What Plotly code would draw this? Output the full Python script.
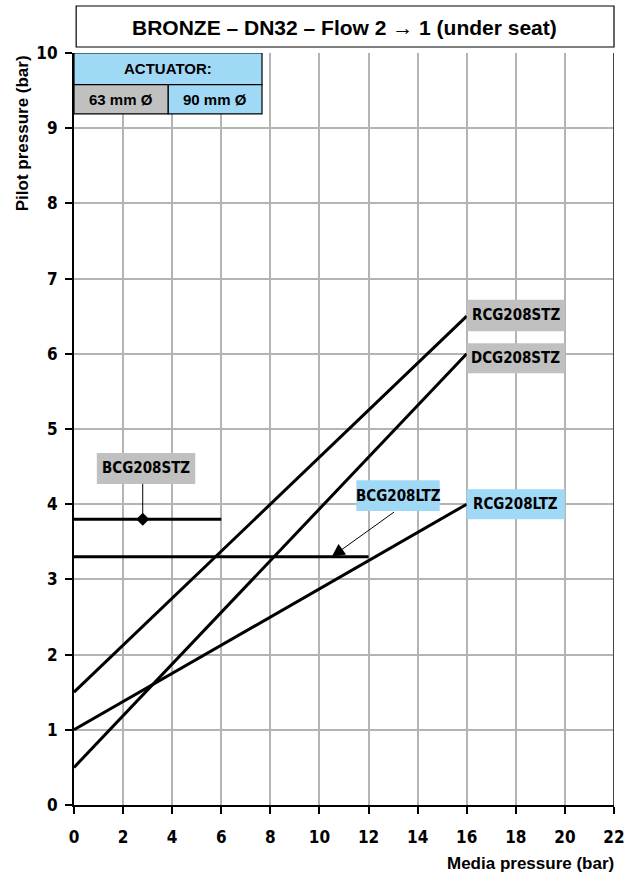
import plotly.graph_objects as go

# ---- data ----
series_names = ["RCG208STZ", "DCG208STZ", "RCG208LTZ", "BCG208STZ", "BCG208LTZ"]
series_x = [[0, 16], [0, 16], [0, 16], [0, 6], [0, 12]]
series_y = [[1.5, 6.5], [0.5, 6.0], [1.0, 4.0], [3.8, 3.8], [3.3, 3.3]]
x_ticks = list(range(0, 23, 2))
y_ticks = list(range(0, 11))
title_text = "BRONZE \u2013 DN32 \u2013 Flow 2 \u2192 1 (under seat)"

GRAY = "#c0c0c0"
BLUE = "#a0d9f6"
COND = "DejaVu Sans Condensed, Liberation Sans Narrow, Liberation Sans"
SANS = "Liberation Sans, Arial"

fig = go.Figure()
for nm, xs, ys in zip(series_names, series_x, series_y):
    fig.add_trace(go.Scatter(x=xs, y=ys, mode="lines", name=nm,
                             line=dict(color="black", width=3), showlegend=False,
                             hoverinfo="skip"))

# diamond marker on BCG208STZ line
fig.add_trace(go.Scatter(x=[2.8], y=[3.8], mode="markers", showlegend=False,
                         marker=dict(symbol="diamond", size=10, color="black"),
                         hoverinfo="skip"))

shapes = []
annotations = []

def label_box(x0, x1, y0, y1, text, fill, size=15):
    shapes.append(dict(type="rect", xref="x", yref="y", x0=x0, x1=x1, y0=y0, y1=y1,
                       fillcolor=fill, line=dict(width=0), layer="above"))
    annotations.append(dict(x=(x0 + x1) / 2, y=(y0 + y1) / 2, xref="x", yref="y",
                            xanchor="center", yanchor="middle",
                            text=text, showarrow=False,
                            font=dict(family=COND, size=size, color="black", weight="bold")))

label_box(16, 20, 6.30, 6.72, "RCG208STZ", GRAY)
label_box(16, 20, 5.74, 6.14, "DCG208STZ", GRAY)
label_box(16, 20, 3.80, 4.20, "RCG208LTZ", BLUE)
label_box(11.5, 14.9, 3.91, 4.32, "BCG208LTZ", BLUE)
label_box(0.93, 4.94, 4.27, 4.68, "BCG208STZ", GRAY)

# leader for BCG208STZ
shapes.append(dict(type="line", xref="x", yref="y", x0=2.8, x1=2.8, y0=4.27, y1=3.8,
                   line=dict(color="black", width=1)))
# arrow for BCG208LTZ
annotations.append(dict(x=10.5, y=3.3, ax=13.1, ay=3.91, xref="x", yref="y",
                        axref="x", ayref="y", text="", showarrow=True,
                        arrowhead=2, arrowsize=2.6, arrowwidth=1, arrowcolor="black"))

# actuator table
shapes.append(dict(type="rect", xref="x", yref="y", x0=0, x1=7.66, y0=9.58, y1=10,
                   fillcolor=BLUE, line=dict(color="black", width=1.2), layer="above"))
shapes.append(dict(type="rect", xref="x", yref="y", x0=0, x1=3.84, y0=9.19, y1=9.58,
                   fillcolor=GRAY, line=dict(color="black", width=1.2), layer="above"))
shapes.append(dict(type="rect", xref="x", yref="y", x0=3.84, x1=7.66, y0=9.19, y1=9.58,
                   fillcolor=BLUE, line=dict(color="black", width=1.2), layer="above"))
for tx, ty, tt in [(3.83, 9.79, "ACTUATOR:"), (1.92, 9.385, "63 mm \u00d8"),
                   (5.75, 9.385, "90 mm \u00d8")]:
    annotations.append(dict(x=tx, y=ty, xref="x", yref="y", text="<b>" + tt + "</b>",
                            xanchor="center", yanchor="middle", showarrow=False,
                            font=dict(family=SANS, size=15, color="black")))

# right border of plot
shapes.append(dict(type="line", xref="x", yref="paper", x0=22, x1=22, y0=0, y1=1,
                   line=dict(color="#444444", width=2)))

# title box
shapes.append(dict(type="rect", xref="paper", yref="paper", x0=0.004, x1=1.0,
                   y0=1.0 + (53 - 47) / 752, y1=1.0 + (53 - 6) / 752,
                   fillcolor="white", line=dict(color="black", width=1.2)))
annotations.append(dict(x=0.5, y=1.0 + (53 - 27) / 752, xref="paper", yref="paper",
                        xanchor="center", yanchor="middle",
                        text="<b>" + title_text + "</b>", showarrow=False,
                        font=dict(family=SANS, size=21, color="black")))

# axis titles
annotations.append(dict(x=(22 - 74) / 543, y=1.0, xref="paper", yref="paper", xanchor="center",
                        yanchor="top", textangle=-90, text="<b>Pilot pressure (bar)</b>",
                        showarrow=False, font=dict(family=SANS, size=17, color="black")))
annotations.append(dict(x=(619 - 74) / 543, y=-(863 - 805) / 752, xref="paper", yref="paper",
                        xanchor="right", yanchor="middle", text="<b>Media pressure (bar)</b>",
                        showarrow=False, font=dict(family=SANS, size=17, color="black")))

fig.update_layout(
    width=637, height=874,
    margin=dict(l=74, r=20, t=53, b=69),
    plot_bgcolor="white", paper_bgcolor="white",
    shapes=shapes, annotations=annotations,
    font=dict(family=SANS, color="black"),
)
tickfont = dict(family=COND, size=17, weight="bold", color="black")
fig.update_xaxes(range=[0, 22], tickvals=x_ticks, ticktext=[str(v) for v in x_ticks],
                 showgrid=True, gridcolor="#b4b4b4", gridwidth=1.5,
                 showline=True, linecolor="black", linewidth=2,
                 ticks="outside", ticklen=7, tickcolor="black", tickwidth=1.5,
                 ticklabelstandoff=9, tickfont=tickfont,
                 zeroline=False, fixedrange=True)
fig.update_yaxes(range=[0, 10], tickvals=y_ticks, ticktext=[str(v) for v in y_ticks],
                 showgrid=True, gridcolor="#b4b4b4", gridwidth=1.5,
                 showline=True, linecolor="black", linewidth=2,
                 ticks="outside", ticklen=7, tickcolor="black", tickwidth=1.5,
                 ticklabelstandoff=4, tickfont=tickfont,
                 zeroline=False, fixedrange=True)

fig.write_html("out.html", config={"displayModeBar": False},
               post_script="document.body.style.margin='0';")
